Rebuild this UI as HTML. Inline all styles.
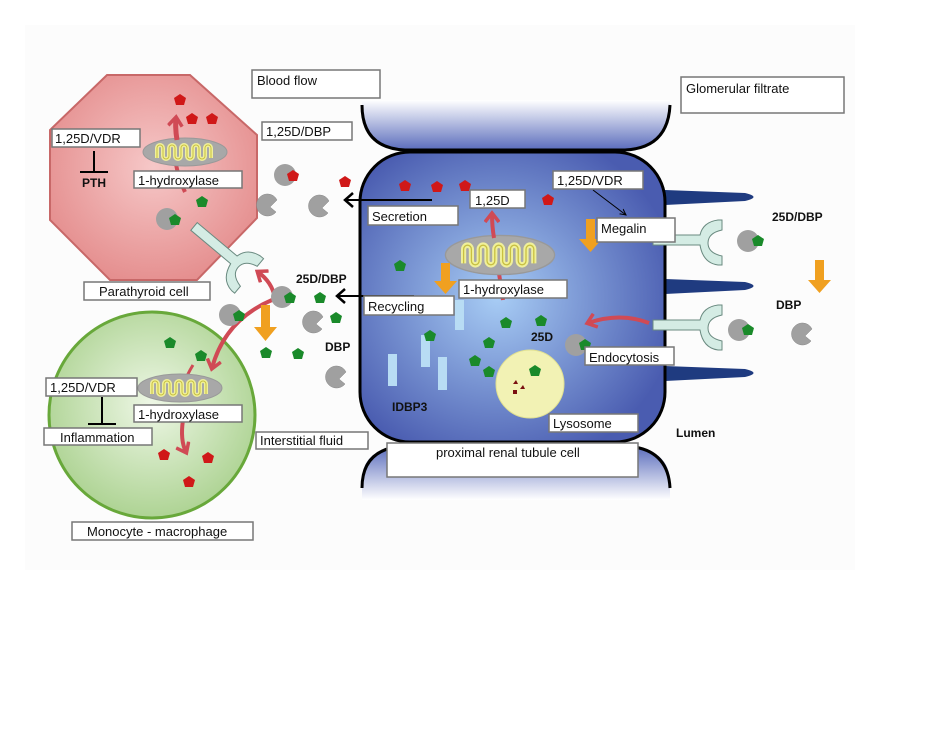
<!DOCTYPE html>
<html><head><meta charset="utf-8"><style>
html,body{margin:0;padding:0;background:#fff;}
svg{display:block}
text{font-family:"Liberation Sans",Arial,sans-serif;}
.lb{fill:#fff;stroke:#777;stroke-width:1.5}
.t{font-size:13px;fill:#111}
.b{font-size:12px;font-weight:bold;fill:#111}
</style></head><body>
<svg width="948" height="736" viewBox="0 0 948 736" xmlns="http://www.w3.org/2000/svg">
<defs>
<radialGradient id="cell" cx="0.45" cy="0.5" r="0.6"><stop offset="0" stop-color="#a8cdf5"/><stop offset="1" stop-color="#4a5cb0"/></radialGradient>
<linearGradient id="capT" x1="0" y1="0" x2="0" y2="1"><stop offset="0" stop-color="#fff"/><stop offset="1" stop-color="#5a6cbc"/></linearGradient>
<linearGradient id="capB" x1="0" y1="0" x2="0" y2="1"><stop offset="0" stop-color="#5a6cbc"/><stop offset="1" stop-color="#fff"/></linearGradient>
<radialGradient id="pth" cx="0.5" cy="0.45" r="0.6"><stop offset="0" stop-color="#f6c8c8"/><stop offset="1" stop-color="#e48c8c"/></radialGradient>
<radialGradient id="mono" cx="0.5" cy="0.45" r="0.6"><stop offset="0" stop-color="#eef7e6"/><stop offset="1" stop-color="#a8d08c"/></radialGradient>
<g id="gp"><polygon points="0,-6 6,-2 4,5 -4,5 -6,-2" fill="#1a8a2a"/></g>
<g id="rp"><polygon points="0,-6 6,-2 4,5 -4,5 -6,-2" fill="#d01818"/></g>
<g id="dbp"><path d="M0,-11 A11,11 0 1 0 8,7 L2,2 L9,-5 A11,11 0 0 0 0,-11 Z" fill="#a0a0a0" stroke="#888" stroke-width="0.5"/></g>
<g id="dbpf"><circle r="11" fill="#a0a0a0"/></g>
<g id="mito"><ellipse rx="42" ry="14" fill="#a8a8a8" stroke="#999"/><path d="M-28,6 v-10 a3,3 0 0 1 6,0 v8 a3,3 0 0 0 6,0 v-8 a3,3 0 0 1 6,0 v8 a3,3 0 0 0 6,0 v-8 a3,3 0 0 1 6,0 v8 a3,3 0 0 0 6,0 v-8 a3,3 0 0 1 6,0 v8 a3,3 0 0 0 6,0 v-8 a3,3 0 0 1 6,0 v10" fill="none" stroke="#f0f09a" stroke-width="4"/><path d="M-28,6 v-10 a3,3 0 0 1 6,0 v8 a3,3 0 0 0 6,0 v-8 a3,3 0 0 1 6,0 v8 a3,3 0 0 0 6,0 v-8 a3,3 0 0 1 6,0 v8 a3,3 0 0 0 6,0 v-8 a3,3 0 0 1 6,0 v8 a3,3 0 0 0 6,0 v-8 a3,3 0 0 1 6,0 v10" fill="none" stroke="#c8c040" stroke-width="1"/></g>
<marker id="ah" markerUnits="userSpaceOnUse" markerWidth="12" markerHeight="16" refX="8" refY="8" orient="auto"><path d="M1,1 L9,8 L1,15" fill="none" stroke="#000" stroke-width="2.5"/></marker>
<marker id="rh" markerUnits="userSpaceOnUse" markerWidth="14" markerHeight="16" refX="9" refY="8" orient="auto"><path d="M1,1 L10,8 L1,15" fill="none" stroke="#d04a55" stroke-width="3.5"/></marker>
<marker id="th" markerUnits="userSpaceOnUse" markerWidth="8" markerHeight="8" refX="6" refY="4" orient="auto"><path d="M0,1 L6,4 L0,7" fill="none" stroke="#000" stroke-width="1"/></marker>
</defs>
<rect x="25" y="25" width="830" height="545" fill="#fcfcfc"/>

<path d="M362,100 L670,100 L670,110 Q668,148 625,150 L405,150 Q362,148 362,110 Z" fill="url(#capT)"/>
<path d="M362,105 Q362,148 405,150 L625,150 Q668,148 670,105" fill="none" stroke="#000" stroke-width="3"/>
<path d="M405,446 L625,446 Q668,448 670,480 L670,500 L362,500 L362,480 Q362,448 405,446 Z" fill="url(#capB)"/>
<path d="M362,488 Q362,448 405,446 L625,446 Q668,448 670,488" fill="none" stroke="#000" stroke-width="3"/>

<path d="M665,190 L745,193 Q762,197 745,201 L665,205 Z" fill="#1f3b80"/>
<path d="M665,279 L745,282 Q762,286 745,290 L665,294 Z" fill="#1f3b80"/>
<path d="M665,366 L745,369 Q762,373 745,377 L665,381 Z" fill="#1f3b80"/>

<rect x="360" y="152" width="305" height="290" rx="50" fill="url(#cell)" stroke="#000" stroke-width="3"/>

<polygon points="107,75 190,75 257,135 257,218 197,280 110,280 50,220 50,130" fill="url(#pth)" stroke="#c86868" stroke-width="2"/>
<circle cx="152" cy="415" r="103" fill="url(#mono)" stroke="#68a83a" stroke-width="3"/>

<rect x="388" y="354" width="9" height="32" fill="#b8dcf4"/>
<rect x="421" y="335" width="9" height="32" fill="#b8dcf4"/>
<rect x="438" y="357" width="9" height="33" fill="#b8dcf4"/>
<rect x="455" y="300" width="9" height="30" fill="#b8dcf4"/>
<circle cx="530" cy="384" r="34" fill="#f2f2b4" stroke="#e0e090"/>
<polygon points="513,384 516,380 518,384" fill="#7a1010"/><polygon points="520,389 523,385 525,389" fill="#7a1010"/><rect x="513" y="390" width="4" height="4" fill="#7a1010"/>

<path d="M185,192 Q172,165 176,140" fill="none" stroke="#d04a55" stroke-width="4"/>
<path d="M503,300 Q497,260 494,240" fill="none" stroke="#d04a55" stroke-width="4"/>
<path d="M193,365 Q185,378 183,388" fill="none" stroke="#d04a55" stroke-width="3"/>

<use href="#mito" x="185" y="152"/>
<use href="#mito" x="180" y="388"/>
<g transform="translate(500,255) scale(1.3,1.4)"><use href="#mito"/></g>

<path d="M177,140 Q175,128 176,118" fill="none" stroke="#d04a55" stroke-width="5" marker-end="url(#rh)"/>
<path d="M494,238 Q492,226 492,214" fill="none" stroke="#d04a55" stroke-width="4" marker-end="url(#rh)"/>
<path d="M272,300 Q225,320 212,368" fill="none" stroke="#d04a55" stroke-width="4" marker-end="url(#rh)"/>
<path d="M183,420 Q180,440 186,452" fill="none" stroke="#d04a55" stroke-width="4" marker-end="url(#rh)"/>
<path d="M275,298 Q272,282 258,272" fill="none" stroke="#d04a55" stroke-width="4" marker-end="url(#rh)"/>
<path d="M649,323 Q620,312 588,323" fill="none" stroke="#d04a55" stroke-width="4" marker-end="url(#rh)"/>

<g fill="#f0a020">
<path d="M261,305 h9 v22 h7 l-11.5,14 l-11.5,-14 h7 z"/>
<path d="M441,263 h9 v18 h7 l-11.5,13 l-11.5,-13 h7 z"/>
<path d="M586,219 h9 v20 h7 l-11.5,13 l-11.5,-13 h7 z"/>
<path d="M815,260 h9 v20 h7 l-11.5,13 l-11.5,-13 h7 z"/>
</g>

<g fill="#d4ece4" stroke="#6a8a80" stroke-width="1">
<path d="M653,235 L700,235 Q703,222 718,220 L722,220 L722,230 Q708,233 708,243 Q708,253 722,256 L722,265 L718,265 Q703,263 700,245 L653,245 Z"/>
<path d="M653,320 L700,320 Q703,307 718,305 L722,305 L722,315 Q708,318 708,328 Q708,338 722,341 L722,350 L718,350 Q703,348 700,330 L653,330 Z"/>
<g transform="translate(240,265) rotate(40)"><path d="M-60,-5 L-8,-5 Q-5,-18 10,-20 L14,-20 L14,-10 Q0,-7 0,3 Q0,13 14,16 L14,25 L10,25 Q-5,23 -8,5 L-60,5 Z"/></g>
</g>

<use href="#dbpf" x="285" y="175"/><use href="#rp" x="293" y="176"/>
<use href="#dbp" x="268" y="205"/><use href="#dbp" x="320" y="206"/>
<use href="#dbpf" x="167" y="219"/><use href="#gp" x="175" y="220"/>
<use href="#dbpf" x="282" y="297"/><use href="#gp" x="290" y="298"/>
<use href="#dbpf" x="230" y="315"/><use href="#gp" x="239" y="316"/>
<use href="#dbp" x="314" y="322"/><use href="#dbp" x="337" y="377"/>
<use href="#dbpf" x="748" y="241"/><use href="#gp" x="758" y="241"/>
<use href="#dbpf" x="739" y="330"/><use href="#gp" x="748" y="330"/>
<use href="#dbp" x="803" y="334"/>
<use href="#dbpf" x="576" y="345"/><use href="#gp" x="585" y="345"/>

<use href="#gp" x="202" y="202"/><use href="#gp" x="320" y="298"/><use href="#gp" x="336" y="318"/>
<use href="#gp" x="266" y="353"/><use href="#gp" x="298" y="354"/><use href="#gp" x="170" y="343"/>
<use href="#gp" x="201" y="356"/><use href="#gp" x="400" y="266"/><use href="#gp" x="430" y="336"/>
<use href="#gp" x="489" y="343"/><use href="#gp" x="506" y="323"/><use href="#gp" x="541" y="321"/>
<use href="#gp" x="489" y="372"/><use href="#gp" x="475" y="361"/><use href="#gp" x="535" y="371"/>
<use href="#rp" x="180" y="100"/><use href="#rp" x="192" y="119"/><use href="#rp" x="212" y="119"/>
<use href="#rp" x="345" y="182"/><use href="#rp" x="405" y="186"/><use href="#rp" x="437" y="187"/>
<use href="#rp" x="465" y="186"/><use href="#rp" x="548" y="200"/>
<use href="#rp" x="164" y="455"/><use href="#rp" x="208" y="458"/><use href="#rp" x="189" y="482"/>

<path d="M432,200 L346,200" stroke="#000" stroke-width="2" marker-end="url(#ah)"/>
<path d="M414,296 L338,296" stroke="#000" stroke-width="2" marker-end="url(#ah)"/>
<path d="M593,190 L626,215" stroke="#000" stroke-width="1" marker-end="url(#th)"/>
<path d="M94,151 V172 M80,172 H108" stroke="#000" stroke-width="2"/>
<path d="M102,397 V424 M88,424 H116" stroke="#000" stroke-width="2"/>

<rect class="lb" x="252" y="70" width="128" height="28"/><text class="t" x="257" y="85">Blood flow</text>
<rect class="lb" x="681" y="77" width="163" height="36"/><text class="t" x="686" y="93">Glomerular filtrate</text>
<rect class="lb" x="262" y="122" width="90" height="18"/><text class="t" x="266" y="136">1,25D/DBP</text>
<rect class="lb" x="52" y="129" width="88" height="18"/><text class="t" x="55" y="143">1,25D/VDR</text>
<text class="b" x="82" y="187">PTH</text>
<rect class="lb" x="134" y="171" width="108" height="17"/><text class="t" x="138" y="185">1-hydroxylase</text>
<rect class="lb" x="84" y="282" width="126" height="18"/><text class="t" x="99" y="296">Parathyroid cell</text>
<rect class="lb" x="368" y="206" width="90" height="19"/><text class="t" x="372" y="221">Secretion</text>
<rect class="lb" x="470" y="190" width="55" height="18"/><text class="t" x="475" y="205">1,25D</text>
<rect class="lb" x="553" y="171" width="90" height="18"/><text class="t" x="557" y="185">1,25D/VDR</text>
<rect class="lb" x="597" y="218" width="78" height="24"/><text class="t" x="601" y="233">Megalin</text>
<rect class="lb" x="364" y="296" width="90" height="19"/><text class="t" x="368" y="311">Recycling</text>
<rect class="lb" x="459" y="280" width="108" height="18"/><text class="t" x="463" y="294">1-hydroxylase</text>
<rect class="lb" x="585" y="347" width="89" height="18"/><text class="t" x="589" y="362">Endocytosis</text>
<rect class="lb" x="549" y="414" width="89" height="18"/><text class="t" x="553" y="428">Lysosome</text>
<rect class="lb" x="387" y="443" width="251" height="34"/><text class="t" x="436" y="457">proximal renal tubule cell</text>
<rect class="lb" x="256" y="432" width="112" height="17"/><text class="t" x="260" y="445">Interstitial fluid</text>
<rect class="lb" x="46" y="378" width="91" height="18"/><text class="t" x="50" y="392">1,25D/VDR</text>
<rect class="lb" x="44" y="428" width="108" height="17"/><text class="t" x="60" y="442">Inflammation</text>
<rect class="lb" x="134" y="405" width="108" height="17"/><text class="t" x="138" y="419">1-hydroxylase</text>
<rect class="lb" x="72" y="522" width="181" height="18"/><text class="t" x="87" y="536">Monocyte - macrophage</text>

<text class="b" x="296" y="283">25D/DBP</text>
<text class="b" x="325" y="351">DBP</text>
<text class="b" x="531" y="341">25D</text>
<text class="b" x="392" y="411">IDBP3</text>
<text class="b" x="676" y="437">Lumen</text>
<text class="b" x="772" y="221">25D/DBP</text>
<text class="b" x="776" y="309">DBP</text>
</svg>
</body></html>
